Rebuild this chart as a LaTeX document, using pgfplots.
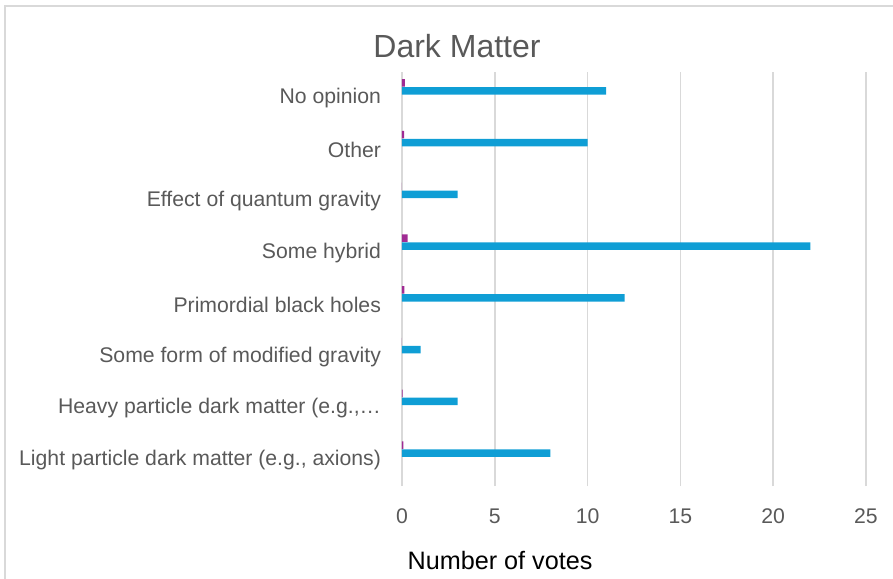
\documentclass[border=0pt]{standalone}
\usepackage{pgfplots}
\pgfplotsset{compat=1.18}
\usepackage{fontspec}
\setmainfont{Liberation Sans}
\definecolor{txt}{HTML}{595959}
\definecolor{gridc}{HTML}{D9D9D9}
\definecolor{barblue}{HTML}{0F9ED5}
\definecolor{barpurple}{HTML}{A02B93}
\begin{document}
\begin{tikzpicture}
\path[use as bounding box] (-201pt,-46pt) rectangle (245.5pt,243pt);
\draw[color=gridc, line width=0.75pt] (-198.5pt,-60pt) rectangle (260pt,240pt);
\begin{axis}[
  at={(0pt,0pt)}, anchor=south west,
  scale only axis, width=232pt, height=207pt,
  xbar, bar width=3.85pt,
  xmin=0, xmax=25, ymin=-0.5, ymax=7.5,
  xtick={0,5,10,15,20,25},
  ytick={0,1,2,3,4,5,6,7},
  yticklabels={{Light particle dark matter (e.g., axions)},
    {Heavy particle dark matter (e.g.,\ldots},
    {Some form of modified gravity},
    {Primordial black holes},
    {Some hybrid},
    {Effect of quantum gravity},
    {Other},
    {No opinion}},
  xmajorgrids,
  major grid style={color=gridc, line width=0.75pt},
  axis line style={draw=none},
  major tick length=0pt,
  /pgf/number format/assume math mode=true,
  tick label style={font=\fontsize{10.6}{12}\selectfont, text=txt},
  xticklabel style={yshift=-8pt},
  yticklabel style={xshift=-7pt},
  clip=false,
]
\addplot[fill=barblue, draw=none, bar shift=3.5pt] coordinates {
  (8,0) (3,1) (1,2) (12,3) (22,4) (3,5) (10,6) (11,7)};
\addplot[fill=barpurple, draw=none, bar shift=7.5pt] coordinates {
  (0.08,0) (0.03,1) (0,2) (0.13,3) (0.3,4) (0,5) (0.12,6) (0.15,7)};
\end{axis}
\node[text=txt, font=\fontsize{16}{19}\selectfont] at (27.5pt,220pt) {Dark Matter};
\node[text=black, font=\fontsize{12.6}{15}\selectfont] at (49pt,-37pt) {Number of votes};
\end{tikzpicture}
\end{document}
